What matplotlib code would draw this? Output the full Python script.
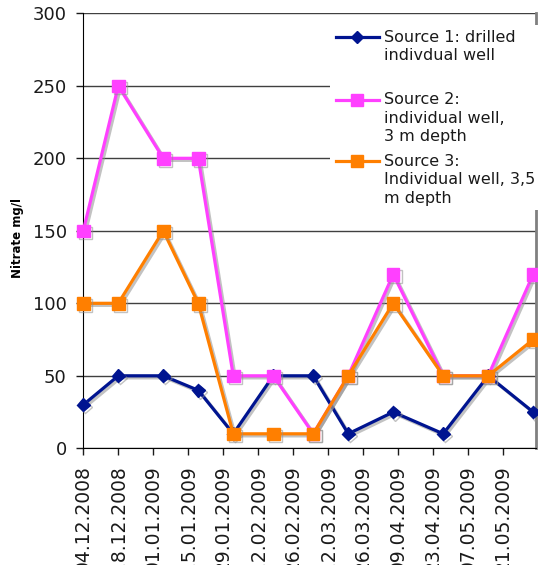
import matplotlib
matplotlib.use("Agg")
import matplotlib.pyplot as plt
import matplotlib.dates as mdates
import matplotlib.patheffects as pe
from matplotlib.lines import Line2D
from matplotlib.patches import Rectangle
from datetime import datetime, timedelta

plt.rcParams['font.family'] = ['DejaVu Sans']

dates_str = ["04.12.2008", "18.12.2008", "05.01.2009", "19.01.2009", "02.02.2009",
             "18.02.2009", "06.03.2009", "20.03.2009", "07.04.2009", "27.04.2009",
             "15.05.2009", "02.06.2009"]
source1 = [30, 50, 50, 40, 10, 50, 50, 10, 25, 10, 50, 25]
source2 = [150, 250, 200, 200, 50, 50, 10, 50, 120, 50, 50, 120]
source3 = [100, 100, 150, 100, 10, 10, 10, 50, 100, 50, 50, 75]
labels = ["Source 1: drilled\nindivdual well",
          "Source 2:\nindividual well,\n3 m depth",
          "Source 3:\nIndividual well, 3,5\nm depth"]
colors = ["#001490", "#FF40FF", "#FF7F00"]
markers = ["D", "s", "s"]
msizes = [6.5, 9, 9]
yticks = [0, 50, 100, 150, 200, 250, 300]

dates = [datetime.strptime(d, "%d.%m.%Y") for d in dates_str]
tick_dates = [dates[0] + timedelta(days=14 * i) for i in range(13)]

W, H = 538, 565
fig = plt.figure(figsize=(W / 100, H / 100), dpi=100)
ax = fig.add_axes([83.3 / W, 1 - 448.3 / H, (535.7 - 83.3) / W, (448.3 - 13.3) / H])

shadow = [pe.SimpleLineShadow(offset=(1.5, -1.5), shadow_color="#909090", alpha=0.55), pe.Normal()]
series = [source1, source2, source3]
for vals, c, m, ms in zip(series, colors, markers, msizes):
    ax.plot(dates, vals, color=c, lw=2.3, marker=m, ms=ms, mec=c, mfc=c,
            path_effects=shadow, zorder=3, clip_on=False)

ax.set_ylim(0, 300)
ax.set_yticks(yticks)
ax.set_xlim(dates[0], dates[-1] + timedelta(days=1))
ax.set_xticks(tick_dates)
ax.xaxis.set_major_formatter(mdates.DateFormatter("%d.%m.%Y"))
ax.grid(axis="y", color="#404040", lw=1)
ax.set_axisbelow(True)

ax.tick_params(axis="x", direction="out", length=5, width=1, pad=7, labelsize=13.5,
               colors="#1a1a1a", labelrotation=90)
ax.tick_params(axis="y", direction="out", length=5, width=1, pad=7, labelsize=13,
               colors="#1a1a1a")
for lab in ax.get_xticklabels():
    lab.set_verticalalignment("top")

ax.spines["left"].set_color("#000000")
ax.spines["bottom"].set_color("#000000")
ax.spines["top"].set_visible(False)
ax.spines["right"].set_color("#808080")
ax.spines["right"].set_linewidth(2)

ax.set_ylabel("Nitrate mg/l", fontsize=8.5, fontweight="bold")
ax.yaxis.set_label_coords(-0.131, 0.483)

# Manual legend (Excel style: handle aligned with first text line)
fig.patches.append(Rectangle((330 / W, 1 - 210 / H), 208 / W, 185 / H,
                             transform=fig.transFigure, facecolor="white",
                             edgecolor="none", zorder=5))
handle_y = [37, 99.5, 161]
line_step = 18.7
for lab, c, m, ms, hy in zip(labels, colors, markers, msizes, handle_y):
    fy = 1 - hy / H
    fig.lines.append(Line2D([336 / W, 379 / W], [fy, fy], transform=fig.transFigure,
                            color=c, lw=2.3, zorder=6))
    fig.lines.append(Line2D([357.5 / W], [fy], transform=fig.transFigure,
                            color=c, marker=m, ms=ms, mec=c, mfc=c, zorder=6))
    for i, line in enumerate(lab.split("\n")):
        fig.text(384 / W, 1 - (hy + i * line_step) / H, line, fontsize=11.5,
                 color="#1a1a1a", va="center", ha="left", zorder=7)

fig.savefig("out.png", dpi=100)
